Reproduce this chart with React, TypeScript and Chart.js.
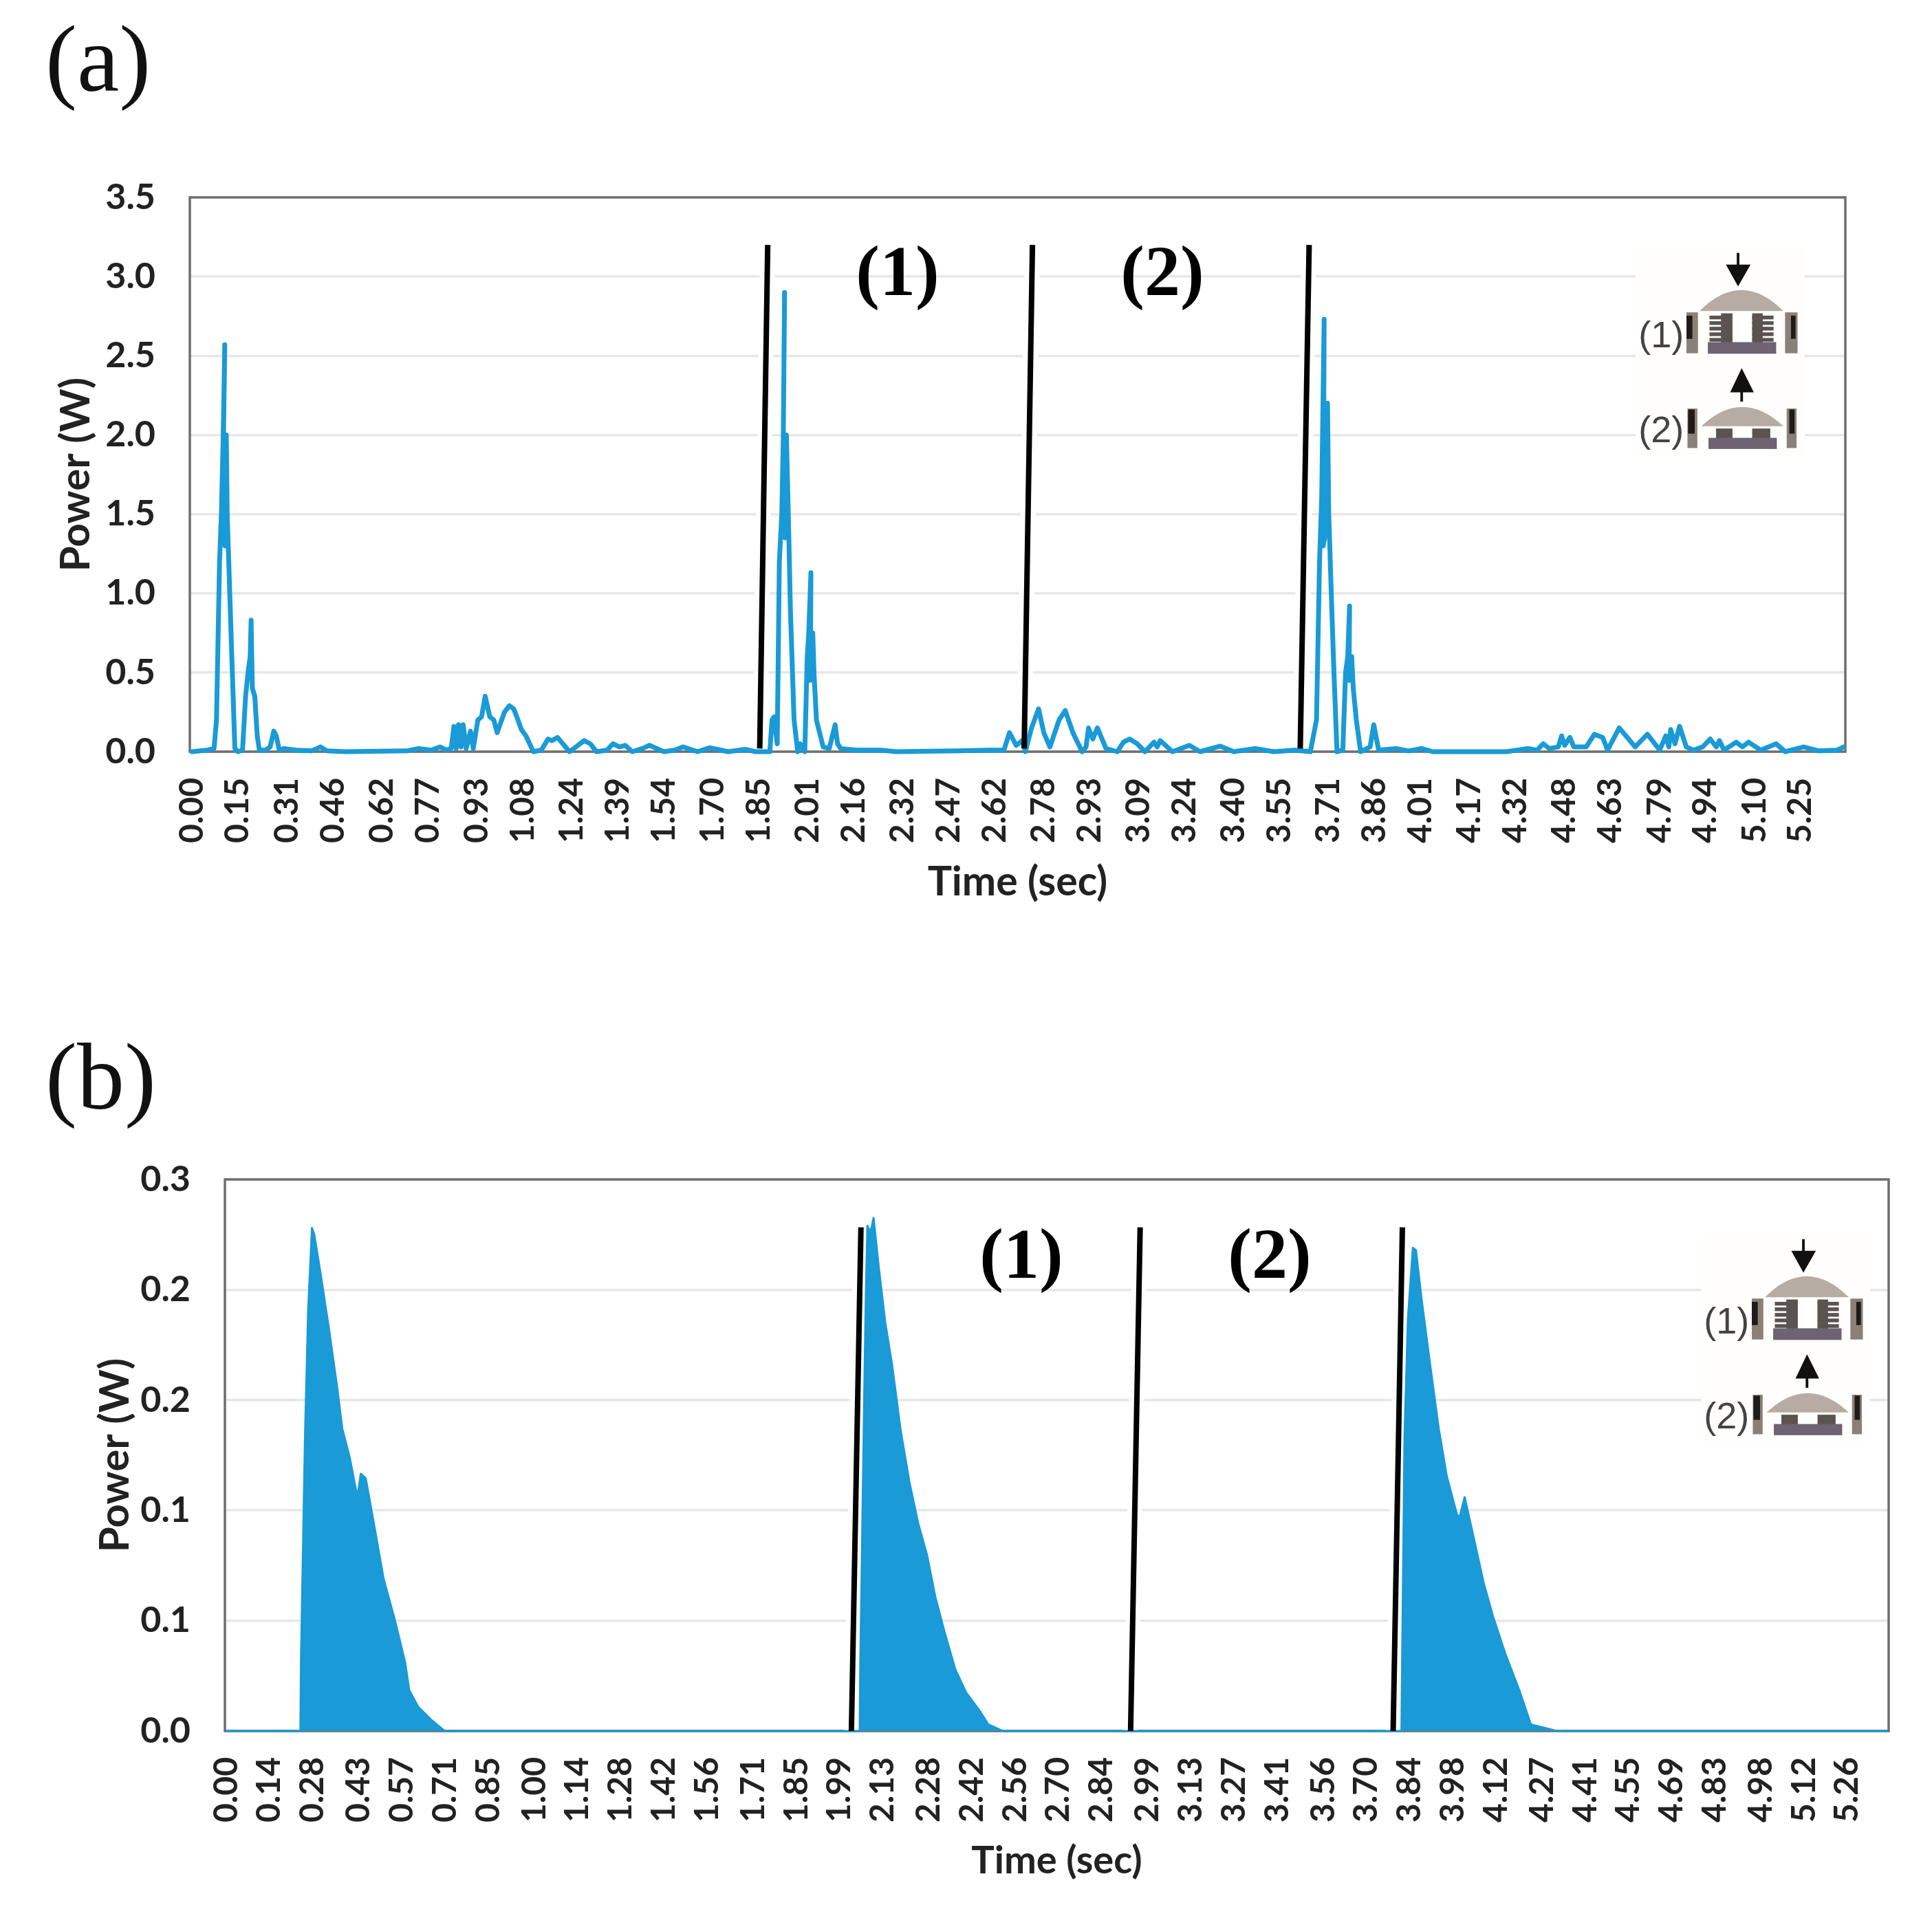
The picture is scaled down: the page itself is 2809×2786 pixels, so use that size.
import React, { useEffect, useRef } from "react";
import { Chart, registerables } from "chart.js";

Chart.register(...registerables);

const ticksA = [0.0,0.15,0.31,0.46,0.62,0.77,0.93,1.08,1.24,1.39,1.54,1.7,1.85,2.01,2.16,2.32,2.47,2.62,2.78,2.93,3.09,3.24,3.4,3.55,3.71,3.86,4.01,4.17,4.32,4.48,4.63,4.79,4.94,5.1,5.25];
const ticksB = [0.0,0.14,0.28,0.43,0.57,0.71,0.85,1.0,1.14,1.28,1.42,1.56,1.71,1.85,1.99,2.13,2.28,2.42,2.56,2.7,2.84,2.99,3.13,3.27,3.41,3.56,3.7,3.84,3.98,4.12,4.27,4.41,4.55,4.69,4.83,4.98,5.12,5.26];
const yLabelsA = ["0.0","0.5","1.0","1.5","2.0","2.5","3.0","3.5"];
const yLabelsB = ["0.0","0.1","0.1","0.2","0.2","0.3"];

// panel (a): [time, power]
const pulseA1 = [[0,0],[0.05,0.01],[0.072,0.02],[0.08,0.2],[0.09,1.2],[0.096,1.5],[0.102,2.0],[0.107,2.57],[0.103,2.0],[0.108,1.3],[0.112,2.0],[0.115,1.5],[0.12,1.2],[0.13,0.6],[0.14,0.02],[0.15,0],[0.165,0.01],[0.175,0.35],[0.183,0.5],[0.19,0.6],[0.193,0.83],[0.197,0.4],[0.205,0.35],[0.213,0.1],[0.22,0.01],[0.24,0.01],[0.255,0.03],[0.267,0.13],[0.275,0.1],[0.285,0.01],[0.3,0.02],[0.34,0.01],[0.39,0.005],[0.419,0.03],[0.44,0.005],[0.5,0],[0.7,0.005],[0.74,0.02],[0.78,0.01],[0.81,0.03],[0.83,0.01]];
const wakeA1 = [[0.846,0.02],[0.855,0.16],[0.862,0.02],[0.87,0.17],[0.878,0.03],[0.885,0.17],[0.895,0.02],[0.909,0.13],[0.918,0.02],[0.933,0.2],[0.945,0.22],[0.957,0.35],[0.972,0.22],[0.985,0.2],[0.996,0.12],[1.02,0.25],[1.036,0.29],[1.05,0.27],[1.06,0.22],[1.075,0.14],[1.09,0.1],[1.114,0],[1.14,0.01],[1.162,0.08],[1.175,0.07],[1.193,0.09],[1.232,0],[1.26,0.04],[1.28,0.07],[1.3,0.05],[1.32,0],[1.355,0.01],[1.374,0.05],[1.395,0.03],[1.414,0.04],[1.437,0],[1.47,0.02],[1.493,0.04],[1.54,0],[1.575,0.01],[1.603,0.03],[1.65,0],[1.689,0.025],[1.75,0],[1.807,0.015],[1.84,0],[1.886,0]];
const pulseA2 = [[1.893,0.2],[1.9,0.22],[1.91,0.05],[1.917,1.2],[1.925,1.5],[1.93,2.0],[1.934,2.9],[1.93,2.0],[1.936,1.35],[1.94,2.0],[1.945,1.6],[1.948,1.35],[1.953,0.9],[1.965,0.2],[1.977,0],[1.985,0.05],[2.0,0],[2.008,0.6],[2.013,0.75],[2.02,1.13],[2.018,0.45],[2.026,0.75],[2.03,0.5],[2.038,0.2],[2.06,0.03],[2.08,0.02],[2.09,0.1],[2.099,0.17],[2.107,0.05],[2.117,0.02],[2.17,0.01],[2.246,0.01],[2.3,0],[2.5,0.005],[2.6,0.01],[2.65,0.01]];
const wakeA2 = [[2.668,0.12],[2.69,0.04],[2.71,0.07],[2.72,0],[2.74,0.15],[2.763,0.27],[2.78,0.12],[2.8,0.03],[2.83,0.2],[2.85,0.26],[2.875,0.12],[2.905,0],[2.918,0.03],[2.926,0.15],[2.94,0.08],[2.955,0.15],[2.983,0.02],[3.02,0],[3.04,0.06],[3.06,0.08],[3.085,0.05],[3.11,0],[3.14,0.06],[3.15,0.03],[3.16,0.07],[3.2,0],[3.255,0.04],[3.29,0],[3.356,0.035],[3.4,0],[3.47,0.02],[3.53,0],[3.6,0.01],[3.65,0]];
const pulseA3 = [[3.67,0.2],[3.68,1.2],[3.687,1.6],[3.695,2.73],[3.692,1.3],[3.701,1.4],[3.706,2.2],[3.71,1.5],[3.72,0.9],[3.727,0.5],[3.737,0],[3.756,0.01],[3.765,0.5],[3.772,0.6],[3.778,0.92],[3.776,0.45],[3.785,0.6],[3.79,0.4],[3.8,0.2],[3.814,0],[3.845,0.03],[3.857,0.17],[3.873,0.01],[3.93,0.02],[3.97,0.005],[4.013,0.02],[4.05,0],[4.29,0]];
const wakeA3 = [[4.36,0.02],[4.39,0.01],[4.41,0.05],[4.43,0.02],[4.459,0.03],[4.47,0.1],[4.48,0.04],[4.497,0.09],[4.51,0.03],[4.55,0.03],[4.577,0.11],[4.604,0.09],[4.62,0.01],[4.658,0.15],[4.68,0.1],[4.71,0.03],[4.75,0.11],[4.79,0.01],[4.81,0.1],[4.82,0.03],[4.826,0.14],[4.84,0.05],[4.855,0.16],[4.877,0.03],[4.9,0.01],[4.93,0.03],[4.955,0.08],[4.975,0.03],[4.985,0.07],[5.0,0.01],[5.04,0.06],[5.06,0.03],[5.08,0.06],[5.12,0.01],[5.17,0.05],[5.2,0],[5.26,0.03],[5.31,0.005],[5.37,0.01],[5.39,0.03]];

// panel (b): [time, power]
const pulseB1 = [[0,0],[0.24,0],[0.242,0.033],[0.255,0.134],[0.265,0.19],[0.2775,0.228],[0.285,0.225],[0.307,0.206],[0.334,0.181],[0.359,0.156],[0.376,0.137],[0.4,0.124],[0.418,0.111],[0.425,0.106],[0.436,0.1166],[0.452,0.1145],[0.478,0.0944],[0.51,0.069],[0.547,0.05],[0.58,0.031],[0.593,0.0186],[0.622,0.011],[0.665,0.005],[0.708,0]];
const pulseB2 = [[2.055,0],[2.057,0.031],[2.07,0.155],[2.075,0.198],[2.08,0.229],[2.09,0.226],[2.1,0.2325],[2.117,0.21],[2.138,0.185],[2.16,0.166],[2.187,0.137],[2.216,0.113],[2.245,0.094],[2.273,0.08],[2.3,0.061],[2.33,0.045],[2.365,0.028],[2.4,0.0175],[2.445,0.009],[2.472,0.003],[2.52,0]];
const pulseB3 = [[3.813,0],[3.815,0.029],[3.823,0.134],[3.834,0.187],[3.85,0.219],[3.86,0.218],[3.878,0.196],[3.906,0.166],[3.934,0.137],[3.96,0.1155],[3.994,0.0976],[4.003,0.0976],[4.018,0.106],[4.05,0.086],[4.08,0.067],[4.11,0.052],[4.15,0.035],[4.195,0.0186],[4.233,0.003],[4.317,0],[5.39,0]];

// slanted phase separators: [time, power]
const dividersA = [[[1.853,0.02],[1.879,3.2]],[[2.716,0.02],[2.743,3.2]],[[3.617,0.02],[3.646,3.2]]];
const dividersB = [[[2.028,0],[2.059,0.2283]],[[2.934,0],[2.965,0.2283]],[[3.786,0],[3.816,0.2283]]];

const BLUE = "#1a9ad6";
const FONT = "Lato, Carlito, sans-serif";

type PanelProps = {
  left: number; top: number; width: number; height: number;
  plotLeft: number; plotRight: number; plotTop: number; plotBottom: number;
  xMin: number; xMax: number; yMax: number; yStep: number;
  xTicks: number[]; yLabels: string[]; xTitleSize: number;
  trace: number[][]; dividers: number[][][]; filled: boolean;
};

function Panel(p: PanelProps) {
  const ref = useRef<HTMLCanvasElement | null>(null);
  useEffect(() => {
    const toXY = (a: number[][]) => a.map(([x, y]) => ({ x, y }));
    const frame = {
      id: "frame",
      beforeDatasetsDraw(c: any) {
        const a = c.chartArea, g = c.ctx;
        g.save();
        g.strokeStyle = "#6e6e6e";
        g.lineWidth = 3.5;
        g.strokeRect(a.left, a.top, a.right - a.left, a.bottom - a.top);
        g.restore();
      },
    };
    const chart = new Chart(ref.current as HTMLCanvasElement, {
      type: "line",
      data: {
        datasets: [
          ...p.dividers.map((d) => ({
            data: toXY(d), borderColor: "#000000", borderWidth: 8, pointRadius: 0, order: 0, fill: false, clip: false as any,
          })),
          {
            data: toXY(p.trace), borderColor: BLUE, backgroundColor: BLUE, borderWidth: p.filled ? 3 : 7,
            borderJoinStyle: "round", borderCapStyle: "round",
            pointRadius: 0, tension: 0, order: 1, fill: p.filled ? "origin" : false, clip: false as any,
          },
          ...p.dividers.map((d) => ({
            data: toXY(d), borderColor: "#ffffff", borderWidth: 22, pointRadius: 0, order: 2, fill: false,
          })),
        ] as any,
      },
      options: {
        responsive: false,
        animation: false,
        parsing: false as any,
        layout: {
          padding: { left: 0, right: p.width - (p.plotRight - p.left), top: p.plotTop - p.top, bottom: 0 },
        },
        plugins: { legend: { display: false }, tooltip: { enabled: false } },
        scales: {
          x: {
            type: "linear", min: p.xMin, max: p.xMax,
            afterBuildTicks: (s: any) => { s.ticks = p.xTicks.map((value) => ({ value })); },
            afterFit: (s: any) => { s.height = p.top + p.height - p.plotBottom; s.paddingLeft = 0; s.paddingRight = 0; },
            grid: { display: false, drawTicks: false },
            border: { display: false },
            ticks: {
              autoSkip: false, minRotation: 90, maxRotation: 90, padding: 38, color: "#222222",
              font: { family: FONT, size: 48, weight: "bold" },
              callback: (v: any) => Number(v).toFixed(2),
            },
            title: {
              display: true, text: "Time (sec)", color: "#222222", padding: { top: 0, bottom: 6 },
              font: { family: FONT, size: p.xTitleSize, weight: "bold" },
            },
          },
          y: {
            type: "linear", min: 0, max: p.yMax,
            afterFit: (s: any) => { s.width = p.plotLeft - p.left; s.paddingTop = 0; s.paddingBottom = 0; },
            grid: { color: "#e7e7e7", lineWidth: 3.5, drawTicks: false },
            border: { display: false },
            ticks: {
              stepSize: p.yStep, padding: 50, color: "#222222",
              font: { family: FONT, size: 52, weight: "bold" },
              callback: (_v: any, i: number) => p.yLabels[i],
            },
            title: {
              display: true, text: "Power (W)", color: "#222222", padding: { top: 0, bottom: 0 },
              font: { family: FONT, size: 60, weight: "bold" },
            },
          },
        },
      } as any,
      plugins: [frame],
    });
    return () => chart.destroy();
  }, []);
  return (
    <canvas
      ref={ref}
      width={p.width}
      height={p.height}
      style={{ position: "absolute", left: p.left, top: p.top, width: p.width, height: p.height }}
    />
  );
}

function Inset({ left, top }: { left: number; top: number }) {
  const W = 246, H = 304, sx = W / 515, sy = H / 450;
  const post = "#8b8077", dark = "#1f1b1a", dome = "#b7aca3", coil = "#5b5350", plate = "#6d6373";
  return (
    <svg width={W} height={H} style={{ position: "absolute", left, top }}>
      <rect x={0} y={0} width={W} height={H} fill="#fffefd" />
      <g transform={`scale(${sx} ${sy}) translate(-790 -150)`}>
        <rect x={1098} y={160} width={8} height={30} fill="#111" />
        <polygon points="1065,185 1140,185 1102,232" fill="#111" />
        <path d="M985,285 Q1112,195 1240,285 Z" fill={dome} />
        <rect x={945} y={288} width={35} height={88} fill={post} />
        <rect x={945} y={295} width={18} height={50} fill={dark} />
        <rect x={1245} y={288} width={38} height={88} fill={post} />
        <rect x={1263} y={295} width={14} height={50} fill={dark} />
        {[0, 1, 2, 3, 4].map((i) => (
          <g key={i}>
            <rect x={1015} y={295 + i * 12} width={65} height={8} fill={coil} />
            <rect x={1145} y={295 + i * 12} width={65} height={8} fill={coil} />
          </g>
        ))}
        <rect x={1050} y={290} width={35} height={65} fill={coil} />
        <rect x={1145} y={290} width={32} height={65} fill={coil} />
        <rect x={1010} y={352} width={208} height={25} fill={plate} />

        <rect x={1109} y={450} width={8} height={30} fill="#111" />
        <polygon points="1078,460 1150,460 1113,408" fill="#111" />
        <path d="M990,533 Q1115,450 1240,533 Z" fill={dome} />
        <rect x={948} y={495} width={30} height={85} fill={post} />
        <rect x={950} y={497} width={20} height={52} fill={dark} />
        <rect x={1250} y={495} width={30} height={85} fill={post} />
        <rect x={1258} y={497} width={16} height={52} fill={dark} />
        <rect x={1035} y={538} width={50} height={22} fill={coil} />
        <rect x={1145} y={538} width={55} height={22} fill={coil} />
        <rect x={1012} y={558} width={208} height={24} fill={plate} />
      </g>
      <text x={(868 - 790) * sx} y={(335 - 150) * sy} fontFamily="Liberation Sans" fontSize={54} fill="#444" textAnchor="middle" dominantBaseline="central">(1)</text>
      <text x={(868 - 790) * sx} y={(540 - 150) * sy} fontFamily="Liberation Sans" fontSize={54} fill="#444" textAnchor="middle" dominantBaseline="central">(2)</text>
    </svg>
  );
}

function Tag({ x, y, text }: { x: number; y: number; text: string }) {
  return (
    <div style={{ position: "absolute", left: x, top: y, transform: "translate(-50%,-50%)", font: "bold 104px 'Liberation Serif'", color: "#000", lineHeight: 1 }}>
      {text}
    </div>
  );
}

function Letter({ x, y, text }: { x: number; y: number; text: string }) {
  return (
    <div style={{ position: "absolute", left: x, top: y, font: "138px 'Liberation Serif'", color: "#111", lineHeight: 1 }}>
      {text}
    </div>
  );
}

export default function App() {
  return (
    <div style={{ position: "fixed", left: 0, top: 0, width: 2809, height: 2786, background: "#fff", overflow: "hidden" }}>
      <Letter x={66} y={17} text="(a)" />
      <Letter x={66} y={1497} text="(b)" />
      <Panel
        left={75} top={240} width={2734} height={1084}
        plotLeft={276} plotRight={2683} plotTop={287} plotBottom={1093}
        xMin={-0.007} xMax={5.396} yMax={3.5} yStep={0.5} xTitleSize={59}
        xTicks={ticksA} yLabels={yLabelsA} filled={false}
        trace={[...pulseA1, ...wakeA1, ...pulseA2, ...wakeA2, ...pulseA3, ...wakeA3]}
        dividers={dividersA}
      />
      <Panel
        left={132} top={1670} width={2677} height={1076}
        plotLeft={327} plotRight={2746} plotTop={1715} plotBottom={2517}
        xMin={-0.005} xMax={5.394} yMax={0.25} yStep={0.05} xTitleSize={56}
        xTicks={ticksB} yLabels={yLabelsB} filled={true}
        trace={[...pulseB1, ...pulseB2, ...pulseB3]}
        dividers={dividersB}
      />
      <Inset left={2378} top={361} />
      <Inset left={2473} top={1795} />
      <Tag x={1305} y={394} text="(1)" />
      <Tag x={1690} y={394} text="(2)" />
      <Tag x={1485} y={1823} text="(1)" />
      <Tag x={1846} y={1823} text="(2)" />
    </div>
  );
}
